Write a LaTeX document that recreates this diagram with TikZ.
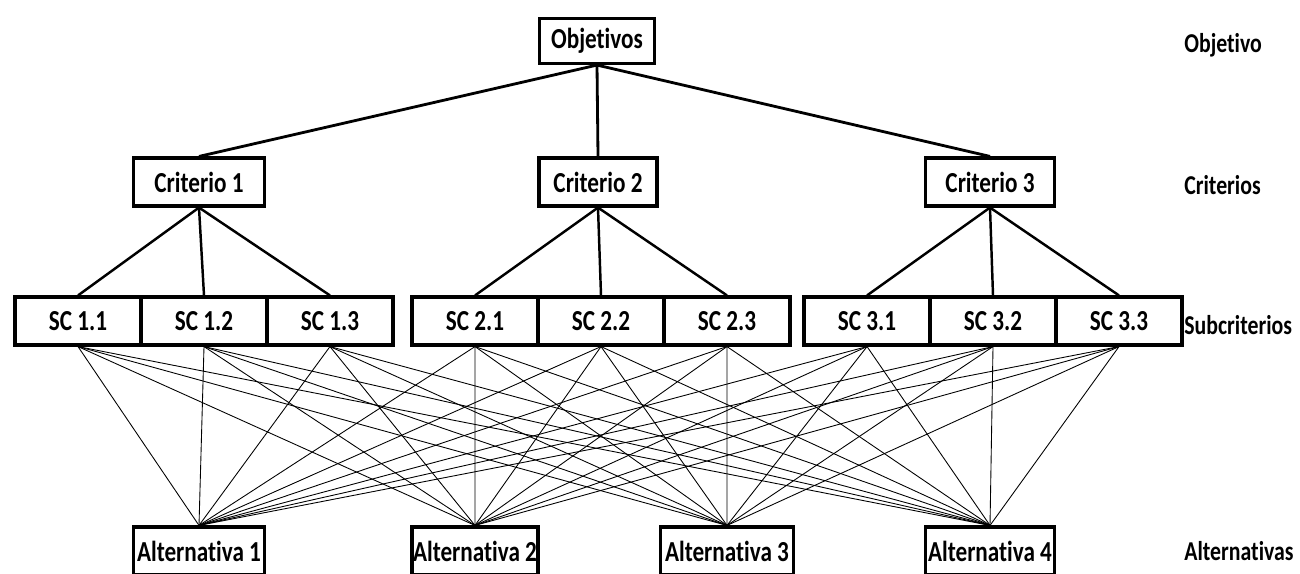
\documentclass[tikz,border=0pt]{standalone}
\usepackage{fontspec}
\setmainfont{Carlito}[FakeStretch=0.8,Ligatures=NoCommon]
\usetikzlibrary{positioning}

\begin{document}
\begin{tikzpicture}[x=0.02cm,y=-0.02cm,node distance=-1.8pt,
  box/.style={draw,line width=1.8pt,inner sep=0pt,minimum height=0.96cm,font=\bfseries\fontsize{16.5}{19}\selectfont},
  sc/.style={box,minimum width=2.52cm},
  lvl/.style={anchor=west,inner sep=0pt,font=\bfseries\fontsize{15.5}{18}\selectfont}]
\useasboundingbox (0,0) rectangle (1300,574);
\node[box,minimum width=2.3cm,minimum height=0.9cm] (obj) at (597,41) {Objetivos};
\node[box,minimum width=2.62cm] (c1) at (199,182) {Criterio 1};
\node[box,minimum width=2.36cm] (c2) at (598,182) {Criterio 2};
\node[box,minimum width=2.58cm] (c3) at (990,182) {Criterio 3};
\node[sc] (sc12) at (204,321) {SC 1.2};
\node[sc,left=of sc12] (sc11) {SC 1.1};
\node[sc,right=of sc12] (sc13) {SC 1.3};
\node[sc] (sc22) at (601,321) {SC 2.2};
\node[sc,left=of sc22] (sc21) {SC 2.1};
\node[sc,right=of sc22] (sc23) {SC 2.3};
\node[sc] (sc32) at (993,321) {SC 3.2};
\node[sc,left=of sc32] (sc31) {SC 3.1};
\node[sc,right=of sc32] (sc33) {SC 3.3};
\node[box,minimum width=2.62cm] (alt1) at (199,551) {Alternativa 1};
\node[box,minimum width=2.52cm] (alt2) at (475,551) {Alternativa 2};
\node[box,minimum width=2.66cm] (alt3) at (727,551) {Alternativa 3};
\node[box,minimum width=2.58cm] (alt4) at (990,551) {Alternativa 4};
\node[lvl] (nobj) at (1184,45) {Objetivo};
\node[lvl] (ncri) at (1184,185) {Criterios};
\node[lvl] (nsub) at (1184,325) {Subcriterios};
\node[lvl] (nalt) at (1184,551) {Alternativas};
\foreach \c in {1,2,3}
  \draw[line width=1.6pt] (obj.south) -- (c\c.north);
\foreach \c in {1,2,3}
  \foreach \s in {1,2,3}
    \draw[line width=1.4pt] (c\c.south) -- (sc\c\s.north);
\foreach \c in {1,2,3}
  \foreach \s in {1,2,3}
    \foreach \a in {1,...,4}
      \draw[line width=0.5pt] (sc\c\s.south) -- (alt\a.north);
\end{tikzpicture}
\end{document}
